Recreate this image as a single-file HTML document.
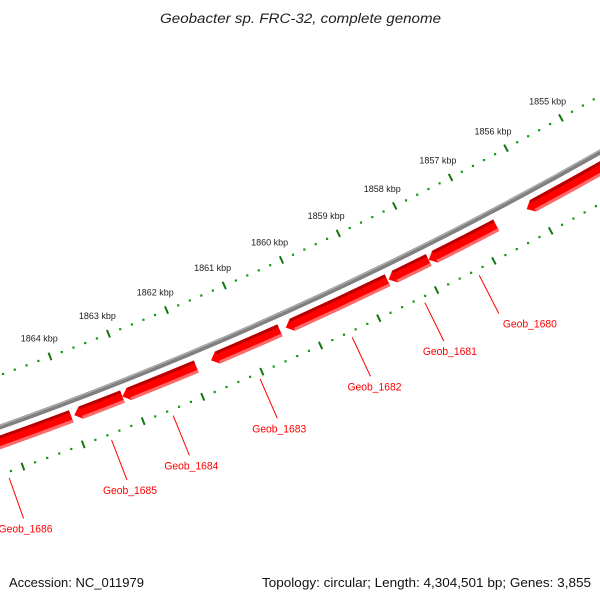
<!DOCTYPE html>
<html><head><meta charset="utf-8">
<style>
html,body{margin:0;padding:0;background:#fff;}
svg{display:block;font-family:"Liberation Sans",sans-serif;}
</style></head>
<body>
<svg id="map" width="600" height="600" viewBox="0 0 600 600" overflow="hidden">
<text x="160" y="23" font-size="13.5" font-style="italic" fill="#222" textLength="281" lengthAdjust="spacingAndGlyphs">Geobacter sp. FRC-32, complete genome</text>
<text x="9" y="587" font-size="13" fill="#111" textLength="135" lengthAdjust="spacingAndGlyphs">Accession: NC_011979</text>
<text x="262" y="587" font-size="13" fill="#111" textLength="329" lengthAdjust="spacingAndGlyphs">Topology: circular; Length: 4,304,501 bp; Genes: 3,855</text>
<g id="plot"></g>
</svg>
<script>
const geneNames = ["Geob_1686","Geob_1685","Geob_1684","Geob_1683","Geob_1682","Geob_1681","Geob_1680",""];
const geneStartKbp = [1864.02,1863.16,1861.91,1860.48,1858.62,1857.90,1856.71,1854.60];
const geneEndKbp   = [1866.50,1863.97,1863.16,1861.66,1860.38,1858.60,1857.90,1856.17];
const labelShift   = [2,3,2,2,4,6,31,0];
const majorTickKbp = [1855,1856,1857,1858,1859,1860,1861,1862,1863,1864,1865,1866];
const tickLabels   = ["1855 kbp","1856 kbp","1857 kbp","1858 kbp","1859 kbp","1860 kbp","1861 kbp","1862 kbp","1863 kbp","1864 kbp","1865 kbp","1866 kbp"];

const NS="http://www.w3.org/2000/svg";
const CX=-1277, CY=-3152, R=3800;
const rTop=R-49, rBot=R+45, rG1=R+8, rG2=R+21;
function ang(k){ return (60.66 + (k-1855)*0.958)*Math.PI/180; }
function pt(r,a){ return [CX+r*Math.cos(a), CY+r*Math.sin(a)]; }
const g=document.getElementById('plot');
function mk(tag,attrs){ const e=document.createElementNS(NS,tag); for(const k in attrs) e.setAttribute(k,attrs[k]); g.appendChild(e); return e; }
function arcD(r,a0,a1){ const p=pt(r,a0),q=pt(r,a1); return `M${p[0]},${p[1]} A${r},${r} 0 0 1 ${q[0]},${q[1]}`; }

let e=mk('path',{d:arcD(R,ang(1853),ang(1867)),fill:'none',stroke:'#808080','stroke-width':5});


e=mk('path',{d:arcD(R-1.5,ang(1853),ang(1867)),fill:'none',stroke:'#b0b0b0','stroke-width':1.2});



[rTop,rBot].forEach((rr,li)=>{
  for(let i=0;i<14*5;i++){
    const k=1853+i*0.2; const a=ang(k);
    if(i%5===0){
      const p=pt(rr-4,a),q=pt(rr+4,a);
      e=mk('line',{x1:p[0],y1:p[1],x2:q[0],y2:q[1],stroke:'#117711','stroke-width':2});
      
      
    } else {
      const p=pt(rr,a);
      e=mk('rect',{x:p[0]-1,y:p[1]-1,width:2.2,height:2.2,fill:'#119911'});
      
      
    }
  }
});
majorTickKbp.forEach((k,i)=>{
  const p=pt(rTop-19,ang(k));
  e=mk('text',{x:p[0]-4,y:p[1]+3,'text-anchor':'middle','font-size':9,fill:'#222'});
  e.textContent=tickLabels[i];
  
  
});

const head=7/R;
geneNames.forEach((nm,i)=>{
  const a0=ang(geneStartKbp[i]), a1=ang(geneEndKbp[i]), ab=a1-head;
  const rm=(rG1+rG2)/2;
  const p1=pt(rG1,a0),p2=pt(rG1,ab),tip=pt(rm,a1),p3=pt(rG2,ab),p4=pt(rG2,a0);
  const d=`M${p1[0]},${p1[1]} A${rG1},${rG1} 0 0 1 ${p2[0]},${p2[1]} L${tip[0]},${tip[1]} L${p3[0]},${p3[1]} A${rG2},${rG2} 0 0 0 ${p4[0]},${p4[1]} Z`;
  e=mk('path',{d:d,fill:'#ff0000'});
  
  
  const q1=pt(rG1,a0),q2=pt(rG1,ab),q3=pt(rG1+3,ab+0.3/R),q4=pt(rG1+3,a0);
  e=mk('path',{d:`M${q1[0]},${q1[1]} A${rG1},${rG1} 0 0 1 ${q2[0]},${q2[1]} L${q3[0]},${q3[1]} A${rG1+3},${rG1+3} 0 0 0 ${q4[0]},${q4[1]} Z`,fill:'#b80000'});
  
  
  const s1=pt(rG2-3,a0),s2=pt(rG2-3,ab),s3=pt(rG2,ab),s4=pt(rG2,a0);
  e=mk('path',{d:`M${s1[0]},${s1[1]} A${rG2-3},${rG2-3} 0 0 1 ${s2[0]},${s2[1]} L${s3[0]},${s3[1]} A${rG2},${rG2} 0 0 0 ${s4[0]},${s4[1]} Z`,fill:'#ff6a6a'});
  
  
  if(nm){
    const ac=(a0+a1)/2;
    const l0=pt(R+51,ac), l1=pt(R+94,ac);
    e=mk('line',{x1:l0[0],y1:l0[1],x2:l1[0],y2:l1[1],stroke:'#ff0000','stroke-width':1});
    
    
    e=mk('text',{x:l1[0]+labelShift[i]-27,y:l1[1]+14,'font-size':11,fill:'#ff0000',textLength:54,lengthAdjust:'spacingAndGlyphs'});
    e.textContent=nm;
    
    
  }
});
</script>
</body></html>
